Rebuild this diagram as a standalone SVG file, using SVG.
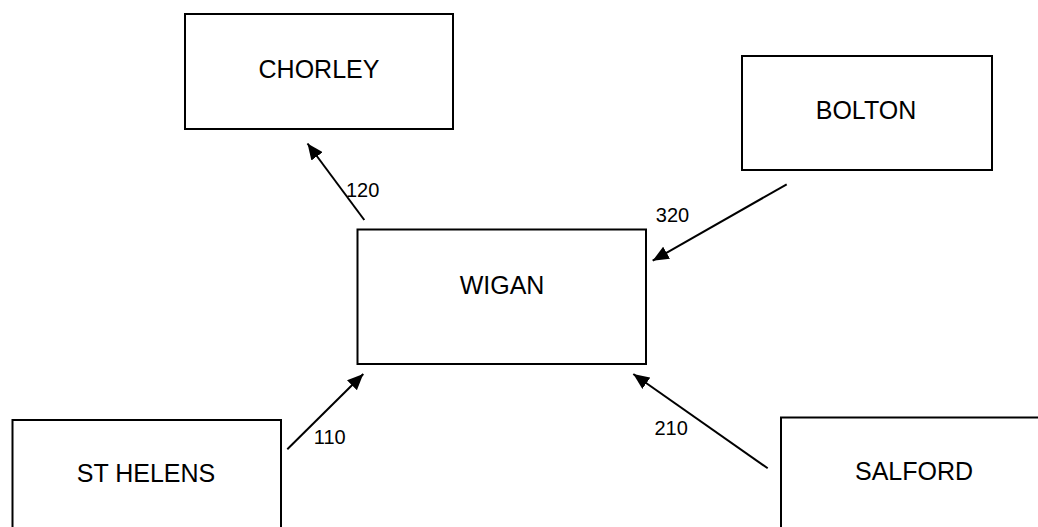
<svg xmlns="http://www.w3.org/2000/svg" width="1038" height="527" viewBox="0 0 1038 527">
  <defs>
    <style>
      .box { fill: #ffffff; stroke: #000000; stroke-width: 2; }
      .name { font-family: "Liberation Sans", Arial, sans-serif; font-size: 25px; fill: #000000; text-anchor: middle; }
      .lbl { font-family: "Liberation Sans", Arial, sans-serif; font-size: 20px; fill: #000000; }
      .edge { stroke: #000000; stroke-width: 2; fill: none; marker-end: url(#arrow); }
    </style>
    <marker id="arrow" markerUnits="userSpaceOnUse" markerWidth="18" markerHeight="14" refX="16" refY="7" orient="auto">
      <polygon points="0,0 16,7 0,14" fill="#000000"/>
    </marker>
  </defs>
  <rect x="0" y="0" width="1038" height="527" fill="#ffffff"/>

  <g id="node-chorley">
    <rect class="box" x="185" y="14" width="268" height="115"/>
    <text class="name" x="319" y="78">CHORLEY</text>
  </g>
  <g id="node-bolton">
    <rect class="box" x="742" y="56" width="250" height="114"/>
    <text class="name" x="866" y="119">BOLTON</text>
  </g>
  <g id="node-wigan">
    <rect class="box" x="357.5" y="229.5" width="288.5" height="134.5"/>
    <text class="name" x="502" y="294">WIGAN</text>
  </g>
  <g id="node-st-helens">
    <rect class="box" x="12.5" y="420" width="268.5" height="130"/>
    <text class="name" x="146" y="482">ST HELENS</text>
  </g>
  <g id="node-salford">
    <rect class="box" x="781" y="417.5" width="300" height="130"/>
    <text class="name" x="914" y="480">SALFORD</text>
  </g>

  <g id="connectors">
    <line class="edge" x1="364.3" y1="220" x2="307.5" y2="143.5"/>
    <line class="edge" x1="786.7" y1="184.3" x2="652.7" y2="260.7"/>
    <line class="edge" x1="287.3" y1="449.3" x2="363.3" y2="374"/>
    <line class="edge" x1="767.7" y1="468.3" x2="633.3" y2="374"/>
    <text class="lbl" x="346" y="197">120</text>
    <text class="lbl" x="655.8" y="222">320</text>
    <text class="lbl" x="313.8" y="443.5">110</text>
    <text class="lbl" x="654.4" y="435">210</text>
  </g>
</svg>
